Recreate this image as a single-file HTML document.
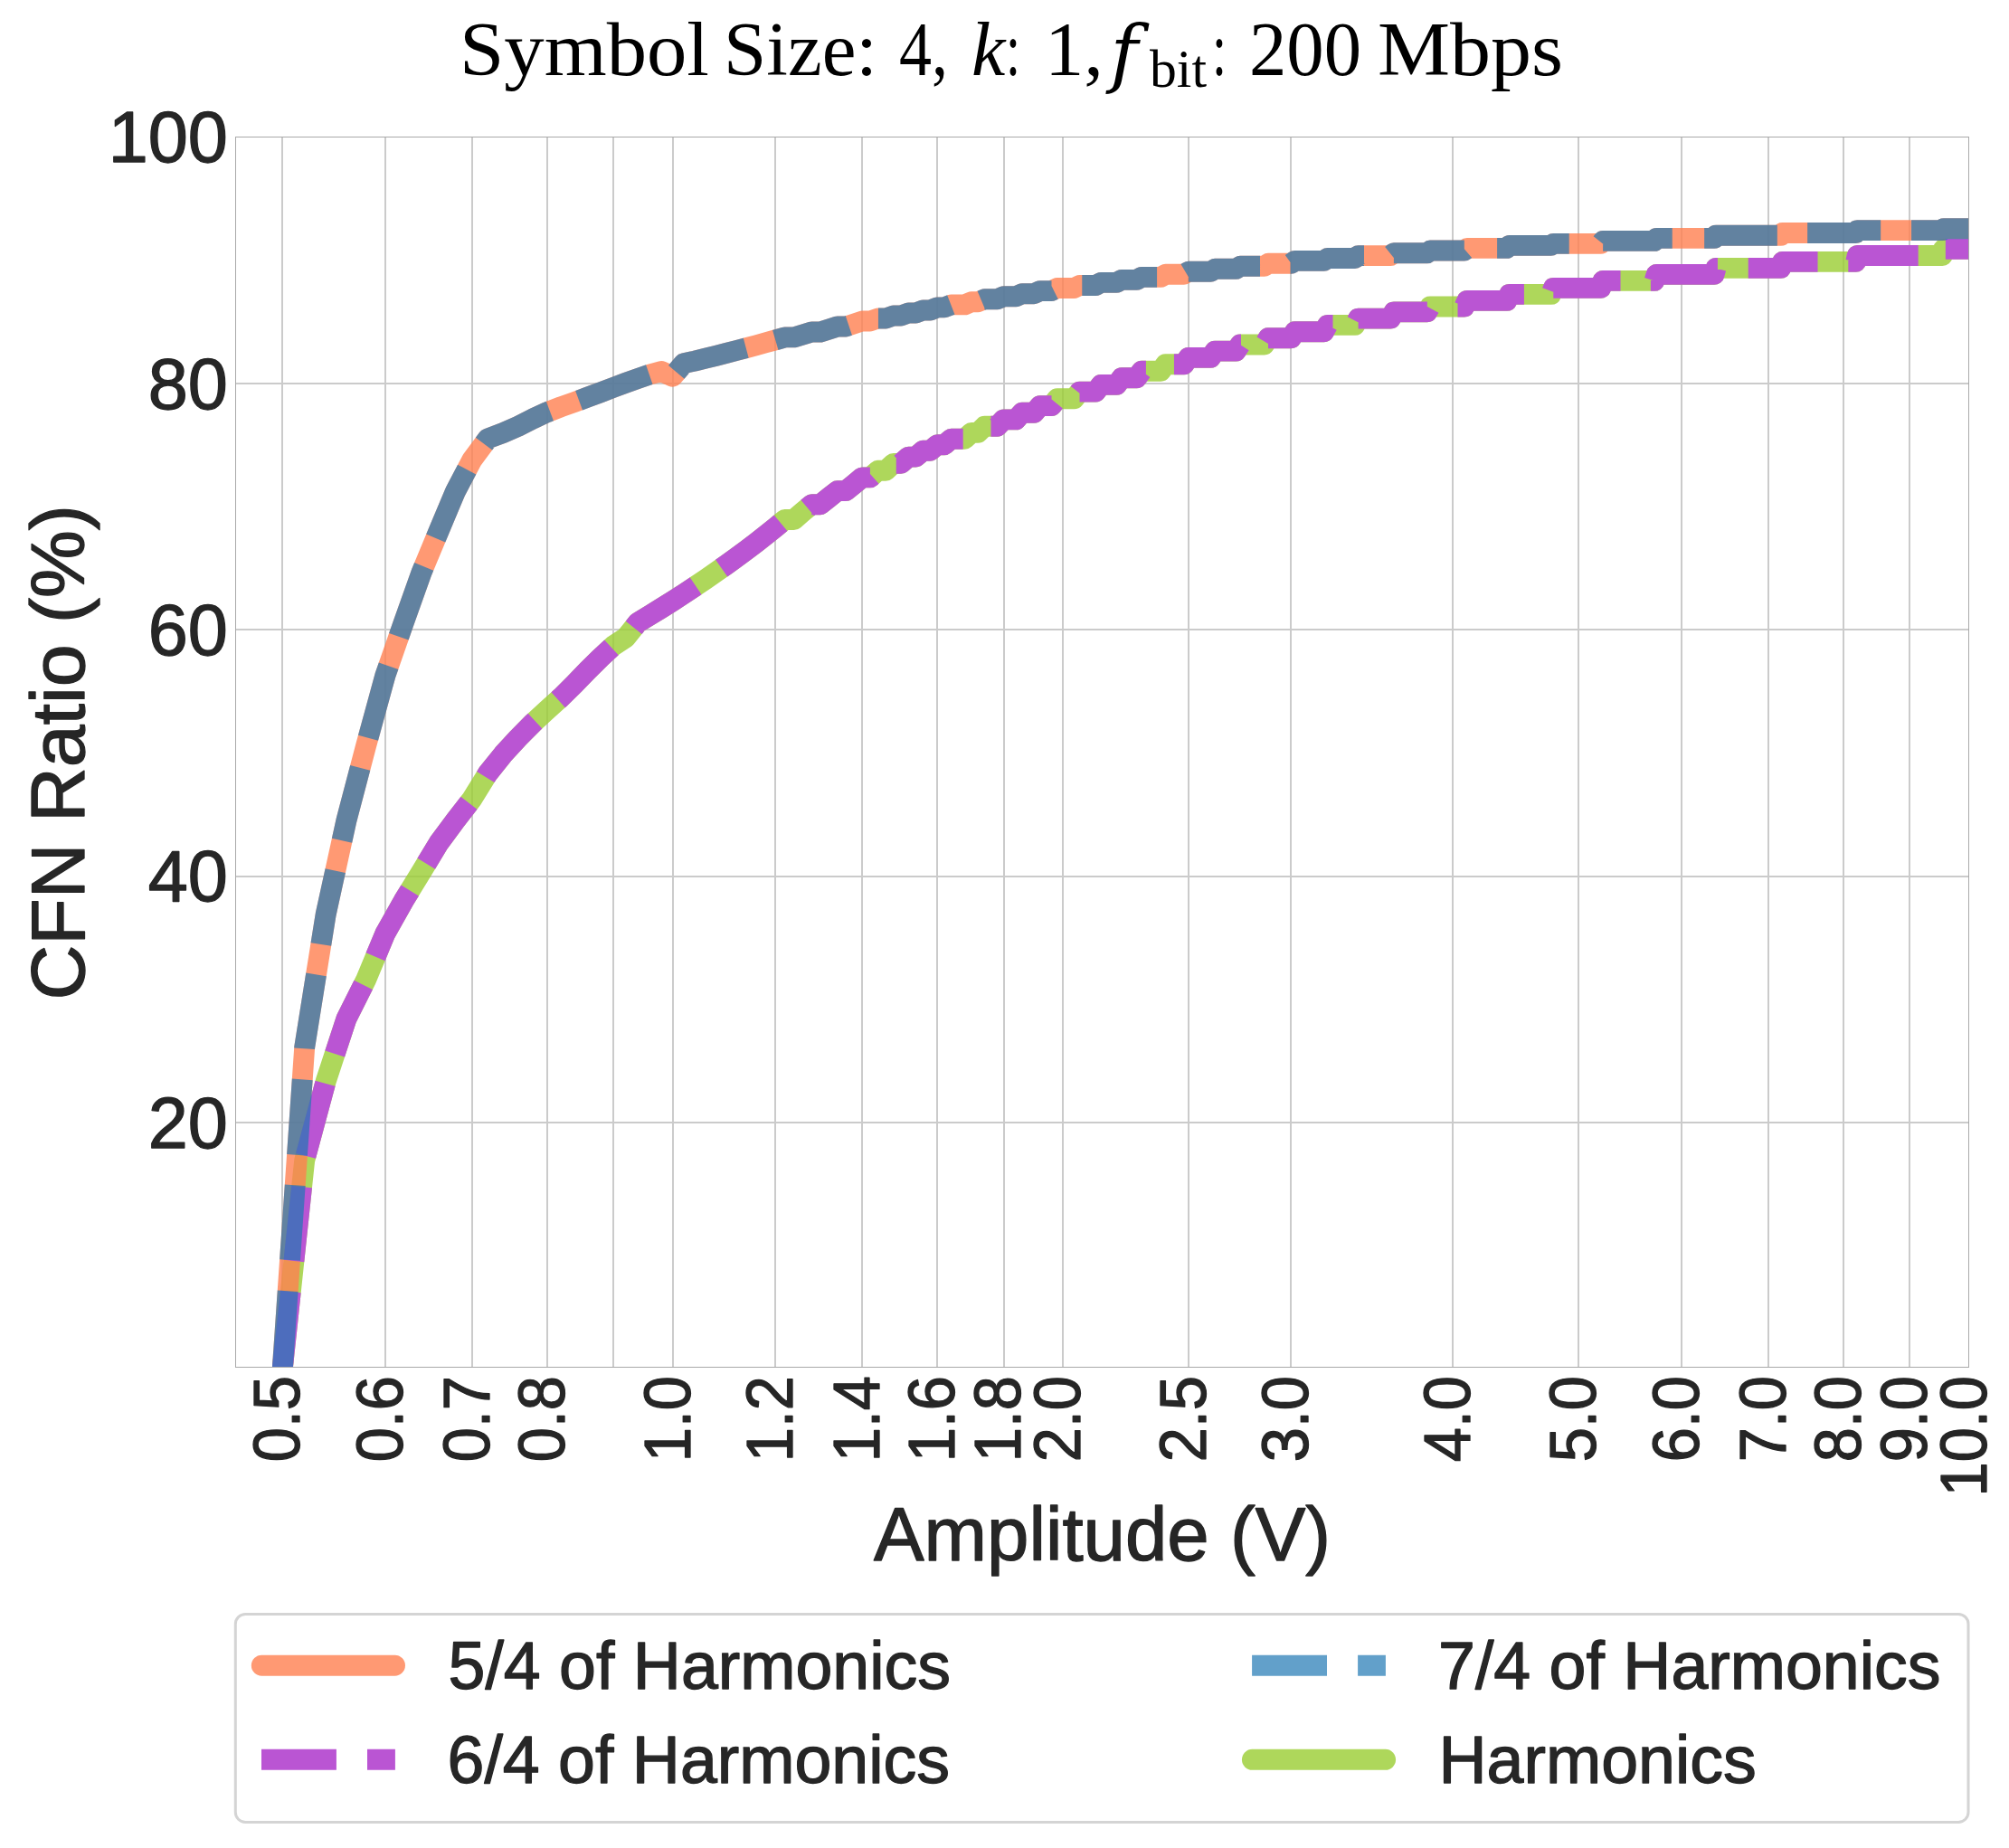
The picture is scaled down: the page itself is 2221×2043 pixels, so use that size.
<!DOCTYPE html>
<html lang="en"><head><meta charset="utf-8"><title>CFN Ratio vs Amplitude</title>
<style>
html,body{margin:0;padding:0;background:#fff;}
body{width:2221px;height:2043px;overflow:hidden;}
svg{display:block;}
.sans{font-family:"Liberation Sans",Arial,Helvetica,sans-serif;fill:#262626;stroke:#262626;stroke-width:1.3px;stroke-linejoin:round;}
.serif{font-family:"Liberation Serif","DejaVu Serif",serif;fill:#000;}
</style></head><body>
<svg width="2221" height="2043" viewBox="0 0 2221 2043">
<rect x="0" y="0" width="2221" height="2043" fill="#ffffff"/>
<defs><clipPath id="axclip"><rect x="260.5" y="151.5" width="1916.0" height="1360.0"/></clipPath></defs>
<g stroke="#cbcbcb" stroke-width="2" fill="none">
<line x1="312" y1="151.5" x2="312" y2="1511.5"/>
<line x1="426" y1="151.5" x2="426" y2="1511.5"/>
<line x1="522" y1="151.5" x2="522" y2="1511.5"/>
<line x1="605" y1="151.5" x2="605" y2="1511.5"/>
<line x1="744" y1="151.5" x2="744" y2="1511.5"/>
<line x1="857" y1="151.5" x2="857" y2="1511.5"/>
<line x1="953" y1="151.5" x2="953" y2="1511.5"/>
<line x1="1036" y1="151.5" x2="1036" y2="1511.5"/>
<line x1="1110" y1="151.5" x2="1110" y2="1511.5"/>
<line x1="1175" y1="151.5" x2="1175" y2="1511.5"/>
<line x1="1314" y1="151.5" x2="1314" y2="1511.5"/>
<line x1="1427" y1="151.5" x2="1427" y2="1511.5"/>
<line x1="1606" y1="151.5" x2="1606" y2="1511.5"/>
<line x1="1745" y1="151.5" x2="1745" y2="1511.5"/>
<line x1="1859" y1="151.5" x2="1859" y2="1511.5"/>
<line x1="1955" y1="151.5" x2="1955" y2="1511.5"/>
<line x1="2038" y1="151.5" x2="2038" y2="1511.5"/>
<line x1="2111" y1="151.5" x2="2111" y2="1511.5"/>
<line x1="678" y1="151.5" x2="678" y2="1511.5"/>
<line x1="260.5" y1="1241" x2="2176.5" y2="1241"/>
<line x1="260.5" y1="969" x2="2176.5" y2="969"/>
<line x1="260.5" y1="696" x2="2176.5" y2="696"/>
<line x1="260.5" y1="424" x2="2176.5" y2="424"/>
</g>
<g clip-path="url(#axclip)" fill="none" stroke-width="22.9" stroke-linejoin="round">
<path d="M312.3,1513.1L336.7,1282.8L360.2,1195.4L382.9,1126.4L404.7,1082.8L425.8,1032.2L446.2,995.8L466.0,963.5L485.1,931.9L503.7,906.7L521.7,883.5L539.3,855.0L556.3,833.8L572.9,815.7
L589.1,799.4L604.8,784.8L620.2,771.0L635.2,756.1L649.8,741.0L664.1,726.8L678.1,713.9L691.8,704.9L705.2,688.2L718.3,680.2L731.1,672.4L743.7,664.5L756.0,656.5L768.1,648.5L780.0,640.5
L791.6,632.4L803.0,624.4L814.2,616.3L825.2,608.1L836.1,599.9L846.7,591.6L857.2,583.1L867.5,574.5L877.6,574.5L887.5,565.9L897.3,557.7L907.0,557.7L916.5,550.0L925.8,542.6L935.1,542.6
L944.1,535.3L953.1,527.9L961.9,527.9L970.6,520.2L979.2,520.2L987.7,512.4L996.0,512.4L1004.3,505.1L1012.4,505.1L1020.4,498.3L1028.4,498.3L1036.2,491.7L1043.9,491.7L1051.6,485.2
L1066.6,485.2L1073.9,478.4L1081.2,478.4L1088.4,471.3L1102.6,471.3L1109.5,463.9L1123.2,463.9L1129.9,456.3L1143.2,456.3L1149.7,448.6L1162.5,448.6L1168.8,440.8L1187.4,440.8
L1193.5,433.1L1211.3,433.1L1217.2,425.4L1234.4,425.4L1240.0,417.8L1256.6,417.8L1262.1,410.2L1283.3,410.2L1288.5,402.8L1308.9,402.8L1313.9,395.4L1338.4,395.4L1343.1,388.1
L1366.4,388.1L1371.0,381.0L1397.7,381.0L1402.0,373.8L1427.4,373.8L1431.5,366.7L1463.7,366.7L1467.6,359.4L1497.9,359.4L1501.6,352.1L1537.4,352.1L1540.9,344.9L1577.8,344.9
L1581.0,339.0L1618.8,339.0L1621.8,332.4L1665.8,332.4L1668.6,325.4L1714.7,325.4L1717.3,318.4L1769.7,318.4L1772.1,310.4L1829.0,310.4L1831.2,303.4L1895.1,303.4L1897.0,296.4
L1968.8,296.4L1970.5,289.4L2051.7,289.4L2053.2,282.5L2147.4,282.5L2148.7,275.4L2195.1,275.4" stroke="#9ACD32" stroke-opacity="0.8" stroke-linecap="round"/>
<path d="M312.3,1512.9L336.7,1157.7L360.2,1010.7L382.9,907.1L404.7,824.1L425.8,747.1L446.2,688.4L466.0,632.8L485.1,587.0L503.7,542.8L521.7,508.6L539.3,484.9L556.3,478.5L572.9,471.2
L589.1,463.0L604.8,455.7L620.2,449.8L635.2,444.5L649.8,439.1L664.1,433.7L678.1,428.4L691.8,423.3L705.2,418.5L718.3,414.0L731.1,410.5L743.7,416.2L756.0,401.6L768.1,399.1L780.0,396.2
L791.6,393.3L803.0,390.4L814.2,387.5L825.2,384.6L836.1,381.7L846.7,378.8L857.2,375.9L867.5,372.9L877.6,372.9L887.5,370.0L897.3,367.0L907.0,367.0L916.5,364.0L925.8,361.0L935.1,361.0
L944.1,358.0L953.1,355.0L961.9,355.0L970.6,352.0L979.2,352.0L987.7,349.0L996.0,349.0L1004.3,346.0L1012.4,346.0L1020.4,343.0L1028.4,343.0L1036.2,339.9L1043.9,339.9L1051.6,336.9
L1066.6,336.9L1073.9,333.8L1081.2,333.8L1088.4,330.8L1102.6,330.8L1109.5,327.7L1123.2,327.7L1129.9,324.7L1143.2,324.7L1149.7,321.6L1162.5,321.6L1168.8,318.5L1187.4,318.5
L1193.5,315.5L1211.3,315.5L1217.2,312.4L1234.4,312.4L1240.0,309.4L1256.6,309.4L1262.1,306.4L1283.3,306.4L1288.5,303.3L1308.9,303.3L1313.9,300.3L1338.4,300.3L1343.1,297.3
L1366.4,297.3L1371.0,294.3L1397.7,294.3L1402.0,291.3L1427.4,291.3L1431.5,288.4L1463.7,288.4L1467.6,285.5L1497.9,285.5L1501.6,282.6L1537.4,282.6L1540.9,279.8L1577.8,279.8
L1581.0,277.0L1618.8,277.0L1621.8,274.4L1665.8,274.4L1668.6,271.4L1714.7,271.4L1717.3,269.4L1769.7,269.4L1772.1,266.4L1829.0,266.4L1831.2,263.4L1895.1,263.4L1897.0,260.3
L1968.8,260.3L1970.5,257.5L2051.7,257.5L2053.2,254.6L2147.4,254.6L2148.7,252.7L2195.1,252.7" stroke="#FF7F50" stroke-opacity="0.8" stroke-linecap="round"/>
<path d="M312.3,1513.1L336.7,1282.8L360.2,1195.4L382.9,1126.4L404.7,1082.8L425.8,1032.2L446.2,995.8L466.0,963.5L485.1,931.9L503.7,906.7L521.7,883.5L539.3,855.0L556.3,833.8L572.9,815.7
L589.1,799.4L604.8,784.8L620.2,771.0L635.2,756.1L649.8,741.0L664.1,726.8L678.1,713.9L691.8,704.9L705.2,688.2L718.3,680.2L731.1,672.4L743.7,664.5L756.0,656.5L768.1,648.5L780.0,640.5
L791.6,632.4L803.0,624.4L814.2,616.3L825.2,608.1L836.1,599.9L846.7,591.6L857.2,583.1L867.5,574.5L877.6,574.5L887.5,565.9L897.3,557.7L907.0,557.7L916.5,550.0L925.8,542.6L935.1,542.6
L944.1,535.3L953.1,527.9L961.9,527.9L970.6,520.2L979.2,520.2L987.7,512.4L996.0,512.4L1004.3,505.1L1012.4,505.1L1020.4,498.3L1028.4,498.3L1036.2,491.7L1043.9,491.7L1051.6,485.2
L1066.6,485.2L1073.9,478.4L1081.2,478.4L1088.4,471.3L1102.6,471.3L1109.5,463.9L1123.2,463.9L1129.9,456.3L1143.2,456.3L1149.7,448.6L1162.5,448.6L1168.8,440.8L1187.4,440.8
L1193.5,433.1L1211.3,433.1L1217.2,425.4L1234.4,425.4L1240.0,417.8L1256.6,417.8L1262.1,410.2L1283.3,410.2L1288.5,402.8L1308.9,402.8L1313.9,395.4L1338.4,395.4L1343.1,388.1
L1366.4,388.1L1371.0,381.0L1397.7,381.0L1402.0,373.8L1427.4,373.8L1431.5,366.7L1463.7,366.7L1467.6,359.4L1497.9,359.4L1501.6,352.1L1537.4,352.1L1540.9,344.9L1577.8,344.9
L1581.0,339.0L1618.8,339.0L1621.8,332.4L1665.8,332.4L1668.6,325.4L1714.7,325.4L1717.3,318.4L1769.7,318.4L1772.1,310.4L1829.0,310.4L1831.2,303.4L1895.1,303.4L1897.0,296.4
L1968.8,296.4L1970.5,289.4L2051.7,289.4L2053.2,282.5L2147.4,282.5L2148.7,275.4L2195.1,275.4" stroke="#BA55D3" stroke-dasharray="85.5 34.2 82.5 34.5 83.0 34.4 82.6 33.9 82.8 34.7 82.1 34.1 82.8 34.6 82.6 33.5 82.8 34.6 82.4 35.8 83.8 32.1 84.0 36.4 82.8 31.6 86.2 34.9 85.8 28.9 85.2 28.8 89.8 31.9 82.4 33.1 84.3 33.4 84.5 33.8 82.3 33.8 82.9 36.1 94.1 10.0"/>
<path d="M312.3,1512.9L336.7,1157.7L360.2,1010.7L382.9,907.1L404.7,824.1L425.8,747.1L446.2,688.4L466.0,632.8L485.1,587.0L503.7,542.8L521.7,508.6L539.3,484.9L556.3,478.5L572.9,471.2
L589.1,463.0L604.8,455.7L620.2,449.8L635.2,444.5L649.8,439.1L664.1,433.7L678.1,428.4L691.8,423.3L705.2,418.5L718.3,414.0L731.1,410.5L743.7,416.2L756.0,401.6L768.1,399.1L780.0,396.2
L791.6,393.3L803.0,390.4L814.2,387.5L825.2,384.6L836.1,381.7L846.7,378.8L857.2,375.9L867.5,372.9L877.6,372.9L887.5,370.0L897.3,367.0L907.0,367.0L916.5,364.0L925.8,361.0L935.1,361.0
L944.1,358.0L953.1,355.0L961.9,355.0L970.6,352.0L979.2,352.0L987.7,349.0L996.0,349.0L1004.3,346.0L1012.4,346.0L1020.4,343.0L1028.4,343.0L1036.2,339.9L1043.9,339.9L1051.6,336.9
L1066.6,336.9L1073.9,333.8L1081.2,333.8L1088.4,330.8L1102.6,330.8L1109.5,327.7L1123.2,327.7L1129.9,324.7L1143.2,324.7L1149.7,321.6L1162.5,321.6L1168.8,318.5L1187.4,318.5
L1193.5,315.5L1211.3,315.5L1217.2,312.4L1234.4,312.4L1240.0,309.4L1256.6,309.4L1262.1,306.4L1283.3,306.4L1288.5,303.3L1308.9,303.3L1313.9,300.3L1338.4,300.3L1343.1,297.3
L1366.4,297.3L1371.0,294.3L1397.7,294.3L1402.0,291.3L1427.4,291.3L1431.5,288.4L1463.7,288.4L1467.6,285.5L1497.9,285.5L1501.6,282.6L1537.4,282.6L1540.9,279.8L1577.8,279.8
L1581.0,277.0L1618.8,277.0L1621.8,274.4L1665.8,274.4L1668.6,271.4L1714.7,271.4L1717.3,269.4L1769.7,269.4L1772.1,266.4L1829.0,266.4L1831.2,263.4L1895.1,263.4L1897.0,260.3
L1968.8,260.3L1970.5,257.5L2051.7,257.5L2053.2,254.6L2147.4,254.6L2148.7,252.7L2195.1,252.7" stroke="#1f77b4" stroke-opacity="0.7" stroke-dasharray="85.9 34.3 82.9 33.5 83.7 34.2 82.9 33.8 82.9 34.2 82.9 34.3 82.6 34.4 82.3 33.9 83.4 34.2 82.3 34.3 82.8 33.9 83.6 33.7 83.5 33.9 83.1 34.6 82.3 32.7 85.1 33.5 83.9 34.5 84.3 30.6 83.4 36.1 81.6 36.4 80.6 35.4 82.4 34.9 82.8 33.9 133.2 10.0"/>
</g>
<rect x="260.5" y="151.5" width="1916.0" height="1360.0" fill="none" stroke="#a9a9a9" stroke-width="1"/>
<g class="sans" font-size="79.2" text-anchor="end">
<text x="251.8" y="1268.6">20</text>
<text x="251.8" y="996.3">40</text>
<text x="251.8" y="723.9">60</text>
<text x="251.8" y="451.6">80</text>
<text x="251.8" y="179.3">100</text>
</g>
<g class="sans" font-size="71.6" text-anchor="end">
<text transform="translate(331.1,1521.0) rotate(-90) scale(0.958,1)">0.5</text>
<text transform="translate(444.6,1521.0) rotate(-90) scale(0.958,1)">0.6</text>
<text transform="translate(540.5,1521.0) rotate(-90) scale(0.958,1)">0.7</text>
<text transform="translate(623.6,1521.0) rotate(-90) scale(0.958,1)">0.8</text>
<text transform="translate(762.5,1521.0) rotate(-90) scale(0.958,1)">1.0</text>
<text transform="translate(876.0,1521.0) rotate(-90) scale(0.958,1)">1.2</text>
<text transform="translate(971.9,1521.0) rotate(-90) scale(0.958,1)">1.4</text>
<text transform="translate(1055.0,1521.0) rotate(-90) scale(0.958,1)">1.6</text>
<text transform="translate(1128.3,1521.0) rotate(-90) scale(0.958,1)">1.8</text>
<text transform="translate(1193.9,1521.0) rotate(-90) scale(0.958,1)">2.0</text>
<text transform="translate(1332.7,1521.0) rotate(-90) scale(0.958,1)">2.5</text>
<text transform="translate(1446.2,1521.0) rotate(-90) scale(0.958,1)">3.0</text>
<text transform="translate(1625.3,1521.0) rotate(-90) scale(0.958,1)">4.0</text>
<text transform="translate(1764.1,1521.0) rotate(-90) scale(0.958,1)">5.0</text>
<text transform="translate(1877.6,1521.0) rotate(-90) scale(0.958,1)">6.0</text>
<text transform="translate(1973.5,1521.0) rotate(-90) scale(0.958,1)">7.0</text>
<text transform="translate(2056.6,1521.0) rotate(-90) scale(0.958,1)">8.0</text>
<text transform="translate(2129.9,1521.0) rotate(-90) scale(0.958,1)">9.0</text>
<text transform="translate(2195.5,1521.0) rotate(-90) scale(0.958,1)">10.0</text>
</g>
<text class="sans" font-size="83.4" text-anchor="middle" x="1218.5" y="1724.8">Amplitude (V)</text>
<text class="sans" font-size="84.2" text-anchor="middle" transform="translate(92.5,831.8) rotate(-90)">CFN Ratio (%)</text>
<text class="serif" x="508.0" y="83.0" font-size="84.0" textLength="276.0" lengthAdjust="spacingAndGlyphs">Symbol</text>
<text class="serif" x="800.0" y="83.0" font-size="84.0" textLength="170.0" lengthAdjust="spacingAndGlyphs">Size:</text>
<text class="serif" x="994.0" y="83.0" font-size="84.0" textLength="54.0" lengthAdjust="spacingAndGlyphs">4,</text>
<text class="serif" x="1074.0" y="83.0" font-size="84.0" font-style="italic">k</text>
<text class="serif" x="1112.0" y="83.0" font-size="84.0" textLength="16.0" lengthAdjust="spacingAndGlyphs">:</text>
<text class="serif" x="1155.0" y="83.0" font-size="84.0" textLength="65.0" lengthAdjust="spacingAndGlyphs">1,</text>
<text x="1227.5" y="87.0" font-size="83" font-style="italic" font-family="DejaVu Serif, serif" fill="#000">f</text>
<text class="serif" x="1271.0" y="95.8" font-size="60.0" textLength="63.0" lengthAdjust="spacingAndGlyphs">bit</text>
<text class="serif" x="1340.0" y="83.0" font-size="84.0" textLength="16.0" lengthAdjust="spacingAndGlyphs">:</text>
<text class="serif" x="1381.0" y="83.0" font-size="84.0" textLength="124.0" lengthAdjust="spacingAndGlyphs">200</text>
<text class="serif" x="1523.0" y="83.0" font-size="84.0" textLength="205.0" lengthAdjust="spacingAndGlyphs">Mbps</text>
<rect x="260.3" y="1784.4" width="1915.7" height="230.1" rx="11" ry="11" fill="#ffffff" stroke="#d4d4d4" stroke-width="3"/>
<line x1="289.3" y1="1841.2" x2="436.5" y2="1841.2" stroke="#FF7F50" stroke-opacity="0.8" stroke-width="22.9" stroke-linecap="round"/>
<path d="M289.0,1945.3 H371.9 M406.0,1945.3 H436.9" stroke="#BA55D3" stroke-width="22.9" fill="none"/>
<path d="M1384.1,1841.2 H1467.0 M1501.1,1841.2 H1531.9" stroke="#1f77b4" stroke-opacity="0.7" stroke-width="22.9" fill="none"/>
<line x1="1384.4" y1="1945.3" x2="1531.6" y2="1945.3" stroke="#9ACD32" stroke-opacity="0.8" stroke-width="22.9" stroke-linecap="round"/>
<g class="sans" font-size="73.5">
<text x="495.5" y="1867.0">5/4 of Harmonics</text>
<text x="494.5" y="1970.5">6/4 of Harmonics</text>
<text x="1590.0" y="1867.0">7/4 of Harmonics</text>
<text x="1590.5" y="1970.5">Harmonics</text>
</g>
</svg></body></html>
